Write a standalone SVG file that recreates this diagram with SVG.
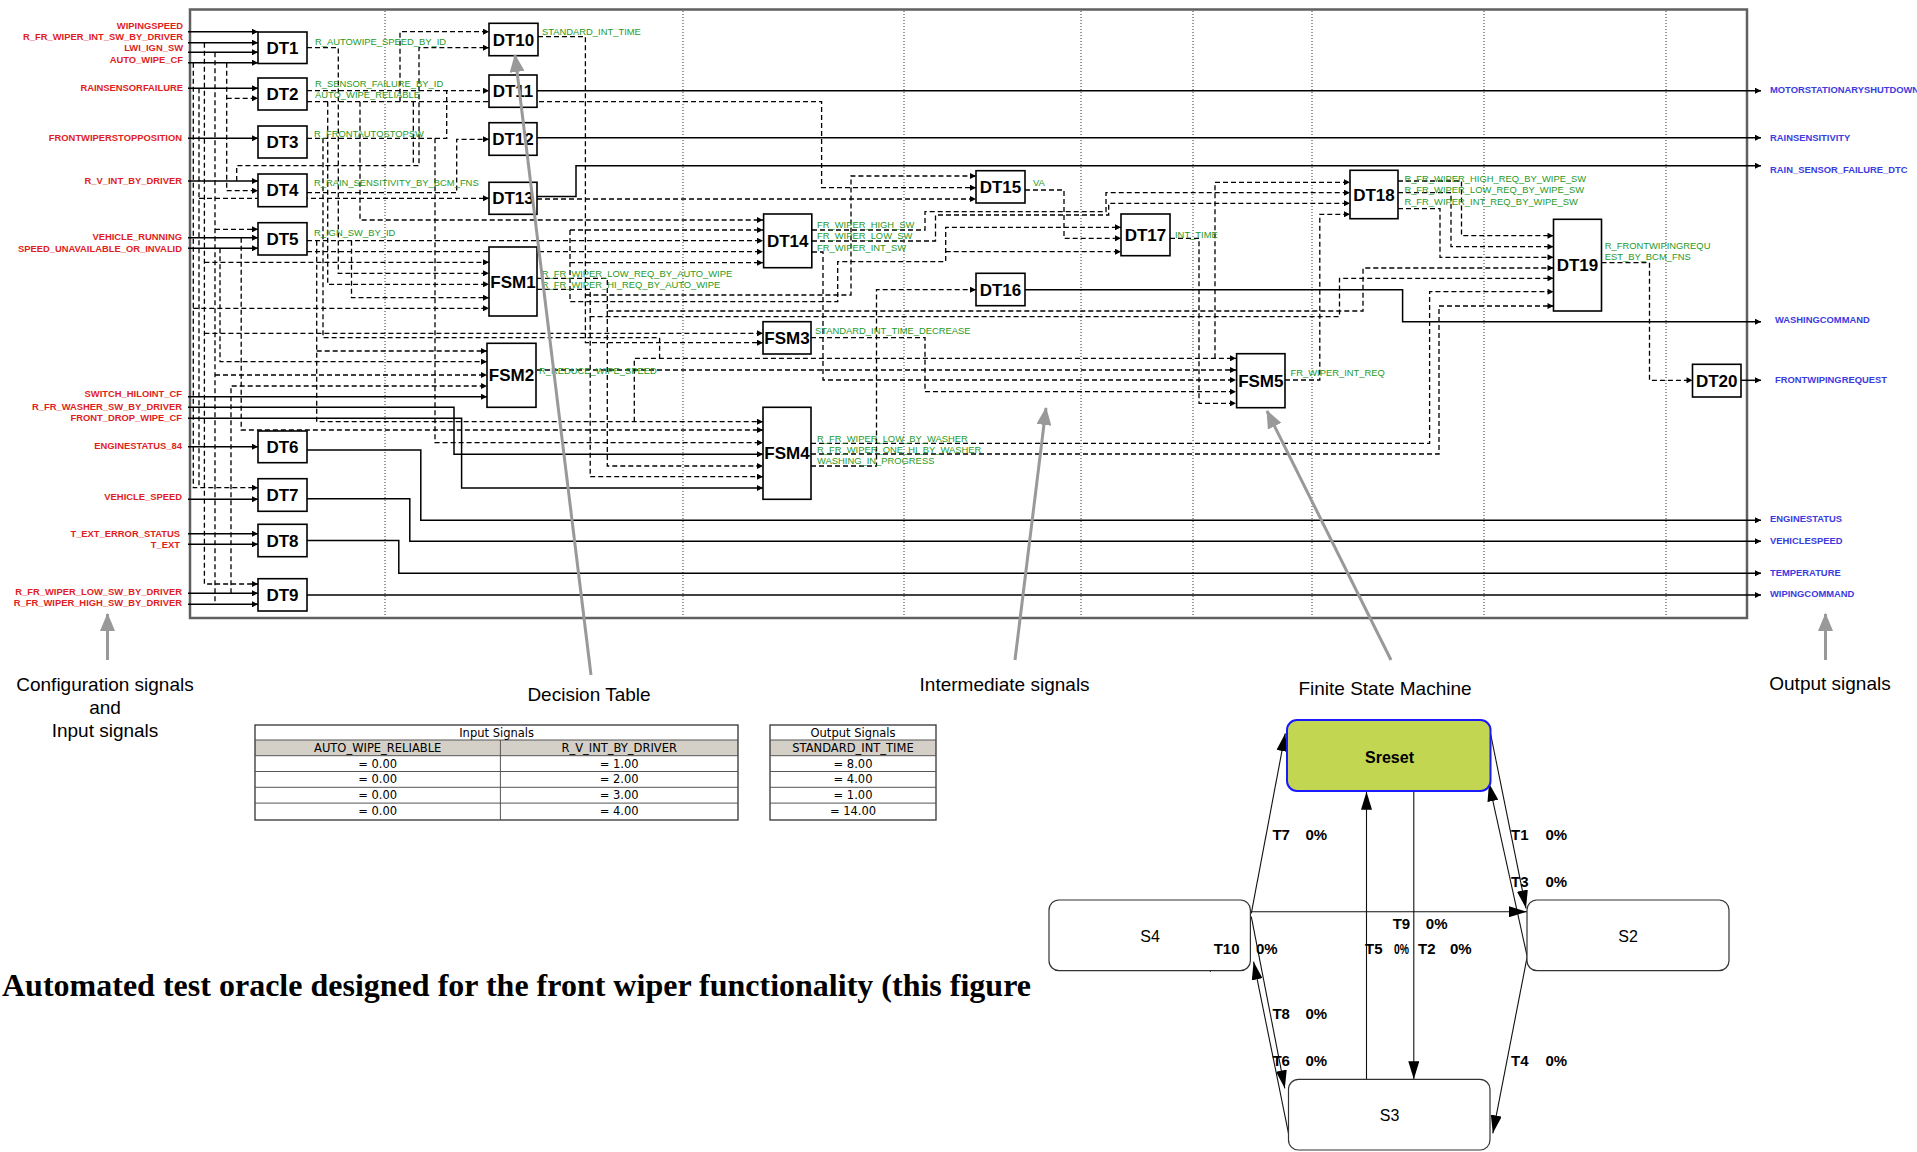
<svg xmlns="http://www.w3.org/2000/svg" width="1917" height="1152" viewBox="0 0 1917 1152">
<style>
.box{fill:#fff;stroke:#000;stroke-width:1.6}
.bl{font-family:'Liberation Sans',Arial,sans-serif;font-weight:bold;font-size:17px;text-anchor:middle;fill:#000}
.s{fill:none;stroke:#000;stroke-width:1.5}
.d{fill:none;stroke:#000;stroke-width:1.3;stroke-dasharray:5,3}
.a{marker-end:url(#a)}
.in{font-family:'Liberation Sans',Arial,sans-serif;font-weight:bold;font-size:9.4px;fill:#e01e1e;text-anchor:end}
.out{font-family:'Liberation Sans',Arial,sans-serif;font-weight:bold;font-size:9.4px;fill:#3b3be0}
.gr{font-family:'Liberation Sans',Arial,sans-serif;font-size:9.4px;fill:#1f9a1f}
.dot{stroke:#000;stroke-width:0.8;stroke-dasharray:1,2}
.ann{font-family:'Liberation Sans',Arial,sans-serif;font-size:19px;text-anchor:middle;fill:#000}
.garr{stroke:#999;stroke-width:3;fill:none;marker-end:url(#g)}
.tt{font-family:'DejaVu Sans',Verdana,sans-serif;font-size:11.5px;text-anchor:middle;fill:#000}
.tl{stroke:#555;stroke-width:1}
.st{fill:#fff;stroke:#333;stroke-width:1.2}
.stl{font-family:'Liberation Sans',Arial,sans-serif;font-size:16px;text-anchor:middle;fill:#000}
.tr{fill:none;stroke:#111;stroke-width:1.1;marker-end:url(#b)}
.trl{font-family:'Liberation Sans',Arial,sans-serif;font-weight:bold;font-size:15px;fill:#000}
</style>
<defs>
<marker id="a" viewBox="0 0 10 10" refX="10" refY="5" markerWidth="7" markerHeight="6" markerUnits="userSpaceOnUse" orient="auto"><path d="M0,0L10,5L0,10z" fill="#000"/></marker>
<marker id="b" viewBox="0 0 18 11" refX="18" refY="5.5" markerWidth="18" markerHeight="11" markerUnits="userSpaceOnUse" orient="auto"><path d="M0,0L18,5.5L0,11z" fill="#000"/></marker>
<marker id="g" viewBox="0 0 18 15" refX="17" refY="7.5" markerWidth="18" markerHeight="15" markerUnits="userSpaceOnUse" orient="auto"><path d="M0,0L18,7.5L0,15z" fill="#999"/></marker>
</defs>
<rect width="1917" height="1152" fill="#fff"/>

<!-- frame and grid -->
<g id="frame">
<rect x="190" y="9.5" width="1557" height="608.5" fill="none" stroke="#606060" stroke-width="2.5"/>
<line class="dot" x1="385" y1="11" x2="385" y2="617"/>
<line class="dot" x1="683" y1="11" x2="683" y2="617"/>
<line class="dot" x1="904" y1="11" x2="904" y2="617"/>
<line class="dot" x1="1081" y1="11" x2="1081" y2="617"/>
<line class="dot" x1="1193" y1="11" x2="1193" y2="617"/>
<line class="dot" x1="1312" y1="11" x2="1312" y2="617"/>
<line class="dot" x1="1484" y1="11" x2="1484" y2="617"/>
<line class="dot" x1="1666" y1="11" x2="1666" y2="617"/>
</g>

<g id="connectors">
<!-- solid inputs -->
<path class="s a" d="M188,31.7H258"/>
<path class="s a" d="M188,42.7H258"/>
<path class="s a" d="M188,52.3H258"/>
<path class="s a" d="M188,62.7H258"/>
<path class="s a" d="M188,88.3H258"/>
<path class="s a" d="M188,138.3H258"/>
<path class="s a" d="M188,181H258"/>
<path class="s a" d="M188,237.7H258"/>
<path class="s a" d="M188,248.3H258"/>
<path class="s a" d="M188,396.7H487"/>
<path class="s a" d="M188,407.3H454V454.3H763"/>
<path class="s a" d="M188,418.3H461.6V488H763"/>
<path class="s a" d="M188,446.7H258"/>
<path class="s a" d="M188,499.3H258"/>
<path class="s a" d="M188,533.7H258"/>
<path class="s a" d="M188,544.3H258"/>
<path class="s a" d="M188,593.3H258"/>
<path class="s a" d="M188,604.3H258"/>
<!-- solid outputs -->
<path class="s a" d="M537,90.7H1761"/>
<path class="s a" d="M537,137.7H1761"/>
<path class="s a" d="M537,196.5H576V165.7H1761"/>
<path class="s a" d="M1025,289.7H1402.6V321.7H1761"/>
<path class="s a" d="M1741,380.3H1761"/>
<path class="s a" d="M307,450H420.8V520.3H1761"/>
<path class="s a" d="M307,498.7H409.8V541.3H1761"/>
<path class="s a" d="M307,540.5H398.8V573.3H1761"/>
<path class="s a" d="M307,595H1761"/>
<!-- dashed -->
<path class="d a" d="M193.3,62.7V487.7H258"/>
<path class="d a" d="M193.3,308.3H489"/>
<path class="d" d="M199,88.3V487.7"/>
<path class="d a" d="M199,198.3H489"/>
<path class="d a" d="M204.4,42.7V584H258"/>
<path class="d a" d="M204.4,262.3H489"/>
<path class="d a" d="M204.4,333.3H763"/>
<path class="d" d="M215,52.3V604.3"/>
<path class="d a" d="M215,229.3H258"/>
<path class="d a" d="M215,375H487"/>
<path class="d a" d="M226.7,62.7V190.7H258"/>
<path class="d a" d="M226.7,98.3H258"/>
<path class="d a" d="M220,248.3V361.7H487"/>
<path class="d a" d="M231,593.3V386H487"/>
<path class="d a" d="M241.2,237.7V430H763"/>
<path class="d a" d="M236.7,181V165.7H419V47.7H489"/>
<path class="d a" d="M307,47.7H338.3V273.3H489"/>
<path class="d a" d="M307,101.7H821.6V187.7H976"/>
<path class="d a" d="M400,101.7V31.7H489"/>
<path class="d a" d="M327.7,101.7V284.3H489"/>
<path class="d a" d="M360,101.7V220H763"/>
<path class="d" d="M413.3,101.7V165.7"/>
<path class="d a" d="M307,90.7H489"/>
<path class="d" d="M307,138.3H446.7V90.7"/>
<path class="d a" d="M435,138.3V442.7H763"/>
<path class="d" d="M323,138.3V337.7H659.6V358.3"/>
<path class="d a" d="M634.3,421.7V358.3H1236"/>
<path class="d a" d="M307,240.7H763"/>
<path class="d a" d="M316.7,240.7V421.7H763"/>
<path class="d a" d="M316.7,351H487"/>
<path class="d a" d="M351.5,240.7V297.7H489"/>
<path class="d a" d="M307,251.7H763"/>
<path class="d a" d="M570,230V301.7H837.7V261.7H945.7V227.3H1121"/>
<path class="d a" d="M570,230H763"/>
<path class="d a" d="M570,262.7H763"/>
<path class="d a" d="M945.7,251.7H1121"/>
<path class="d a" d="M538,36.7H585.4V342.7H763"/>
<path class="d a" d="M585.4,295H851V176H976"/>
<path class="d a" d="M537,199H976"/>
<path class="d a" d="M537,278.3H607.3V311H1363V268H1553.5"/>
<path class="d a" d="M537,289.3H590.2V316.7H1339.5V278.3H1553.5"/>
<path class="d a" d="M607.3,311V466H763"/>
<path class="d a" d="M590.2,316.7V476.7H763"/>
<path class="d a" d="M537,370H1236"/>
<path class="d a" d="M811,337.7H925V391.7H1236"/>
<path class="d a" d="M811,443.3H1429.6V291.7H1553.5"/>
<path class="d a" d="M811,454H1439V306H1553.5"/>
<path class="d a" d="M811,466H876.5V289.7H976"/>
<path class="d a" d="M812,230H925V211.7H1106V192.7H1350"/>
<path class="d a" d="M812,241H935.5V215H1108.7V203.3H1350"/>
<path class="d a" d="M812,252H823V380H1236"/>
<path class="d a" d="M1025,190H1064V238.3H1121"/>
<path class="d a" d="M1170,238.3H1199V403.3H1236"/>
<path class="d a" d="M1285,380H1319.8V214.3H1350"/>
<path class="d a" d="M1215,358.3V182.3H1350"/>
<path class="d a" d="M1398,181H1461.5V235.7H1553.5"/>
<path class="d a" d="M1398,192.7H1451V246.7H1553.5"/>
<path class="d a" d="M1398,208.7H1440V257.3H1553.5"/>
<path class="d a" d="M1601.5,262.7H1649.5V380.3H1692.5"/>
<path class="d a" d="M307,192.7H456.7V139.3H489"/>
</g>

<!-- nodes -->
<g id="DT1"><rect class="box" x="258" y="32" width="49" height="31.5"/><text class="bl" x="282.5" y="53.7">DT1</text></g>
<g id="DT2"><rect class="box" x="258" y="78" width="49" height="32"/><text class="bl" x="282.5" y="100">DT2</text></g>
<g id="DT3"><rect class="box" x="258" y="126" width="49" height="32"/><text class="bl" x="282.5" y="148">DT3</text></g>
<g id="DT4"><rect class="box" x="258" y="174" width="49" height="32.7"/><text class="bl" x="282.5" y="196.3">DT4</text></g>
<g id="DT5"><rect class="box" x="258" y="222.7" width="49" height="32.3"/><text class="bl" x="282.5" y="244.8">DT5</text></g>
<g id="DT6"><rect class="box" x="258" y="431" width="49" height="31.7"/><text class="bl" x="282.5" y="452.8">DT6</text></g>
<g id="DT7"><rect class="box" x="258" y="478.7" width="49" height="32.6"/><text class="bl" x="282.5" y="501">DT7</text></g>
<g id="DT8"><rect class="box" x="258" y="524.3" width="49" height="32.4"/><text class="bl" x="282.5" y="546.5">DT8</text></g>
<g id="DT9"><rect class="box" x="258" y="578.7" width="49" height="32.3"/><text class="bl" x="282.5" y="600.8">DT9</text></g>
<g id="DT10"><rect class="box" x="489" y="23.3" width="49" height="32.4"/><text class="bl" x="513.5" y="45.5">DT10</text></g>
<g id="DT11"><rect class="box" x="489" y="75" width="48" height="32.3"/><text class="bl" x="513" y="97">DT11</text></g>
<g id="DT12"><rect class="box" x="489" y="122.7" width="48" height="32.6"/><text class="bl" x="513" y="145">DT12</text></g>
<g id="DT13"><rect class="box" x="489" y="182.3" width="48" height="32"/><text class="bl" x="513" y="204.3">DT13</text></g>
<g id="FSM1"><rect class="box" x="489" y="247" width="48" height="69"/><text class="bl" x="513" y="287.5">FSM1</text></g>
<g id="FSM2"><rect class="box" x="487" y="343.3" width="49" height="64"/><text class="bl" x="511.5" y="381.3">FSM2</text></g>
<g id="FSM3"><rect class="box" x="763" y="321.7" width="48" height="32.3"/><text class="bl" x="787" y="343.8">FSM3</text></g>
<g id="FSM4"><rect class="box" x="763" y="407.3" width="48" height="92"/><text class="bl" x="787" y="459.3">FSM4</text></g>
<g id="DT14"><rect class="box" x="763.6" y="214" width="48.2" height="53.7"/><text class="bl" x="787.7" y="246.8">DT14</text></g>
<g id="DT15"><rect class="box" x="976" y="170.7" width="49" height="32.3"/><text class="bl" x="1000.5" y="192.8">DT15</text></g>
<g id="DT16"><rect class="box" x="976" y="273.3" width="49" height="32.4"/><text class="bl" x="1000.5" y="295.5">DT16</text></g>
<g id="DT17"><rect class="box" x="1121" y="214" width="49" height="41.7"/><text class="bl" x="1145.5" y="240.8">DT17</text></g>
<g id="DT18"><rect class="box" x="1350" y="170.3" width="48" height="48.4"/><text class="bl" x="1374" y="200.5">DT18</text></g>
<g id="DT19"><rect class="box" x="1553.5" y="219.3" width="48" height="91.7"/><text class="bl" x="1577.5" y="271">DT19</text></g>
<g id="DT20"><rect class="box" x="1692.5" y="364.3" width="48.5" height="32.7"/><text class="bl" x="1716.7" y="386.6">DT20</text></g>
<g id="FSM5"><rect class="box" x="1236.6" y="353.7" width="48.4" height="54"/><text class="bl" x="1260.8" y="386.7">FSM5</text></g>

<!-- input labels -->
<g id="inputs">
<text class="in" x="183" y="29.1">WIPINGSPEED</text>
<text class="in" x="183" y="40.1">R_FR_WIPER_INT_SW_BY_DRIVER</text>
<text class="in" x="183" y="51.1">LWI_IGN_SW</text>
<text class="in" x="183" y="63.4">AUTO_WIPE_CF</text>
<text class="in" x="183" y="91">RAINSENSORFAILURE</text>
<text class="in" x="182" y="141.4">FRONTWIPERSTOPPOSITION</text>
<text class="in" x="182" y="184.1">R_V_INT_BY_DRIVER</text>
<text class="in" x="182" y="240.1">VEHICLE_RUNNING</text>
<text class="in" x="182" y="251.7">SPEED_UNAVAILABLE_OR_INVALID</text>
<text class="in" x="182" y="397.4">SWITCH_HILOINT_CF</text>
<text class="in" x="182" y="410.1">R_FR_WASHER_SW_BY_DRIVER</text>
<text class="in" x="182" y="421.1">FRONT_DROP_WIPE_CF</text>
<text class="in" x="182" y="449.1">ENGINESTATUS_84</text>
<text class="in" x="182" y="500.1">VEHICLE_SPEED</text>
<text class="in" x="180" y="537.1">T_EXT_ERROR_STATUS</text>
<text class="in" x="180" y="547.7">T_EXT</text>
<text class="in" x="182" y="595.1">R_FR_WIPER_LOW_SW_BY_DRIVER</text>
<text class="in" x="182" y="605.7">R_FR_WIPER_HIGH_SW_BY_DRIVER</text>
</g>

<!-- output labels -->
<g id="outputs">
<text class="out" x="1770" y="93.4">MOTORSTATIONARYSHUTDOWN</text>
<text class="out" x="1770" y="140.7">RAINSENSITIVITY</text>
<text class="out" x="1770" y="173.1">RAIN_SENSOR_FAILURE_DTC</text>
<text class="out" x="1775" y="323.4">WASHINGCOMMAND</text>
<text class="out" x="1775" y="383.4">FRONTWIPINGREQUEST</text>
<text class="out" x="1770" y="521.7">ENGINESTATUS</text>
<text class="out" x="1770" y="544.1">VEHICLESPEED</text>
<text class="out" x="1770" y="576.1">TEMPERATURE</text>
<text class="out" x="1770" y="597.1">WIPINGCOMMAND</text>
</g>

<!-- intermediate signal labels -->
<g id="signals">
<text class="gr" x="315" y="45.1">R_AUTOWIPE_SPEED_BY_ID</text>
<text class="gr" x="315" y="86.7">R_SENSOR_FAILURE_BY_ID</text>
<text class="gr" x="315" y="98.4">AUTO_WIPE_RELIABLE</text>
<text class="gr" x="314" y="136.7">R_FRONTAUTOSTOPSW</text>
<text class="gr" x="314" y="185.7">R_RAIN_SENSITIVITY_BY_BCM_FNS</text>
<text class="gr" x="314" y="235.7">R_IGN_SW_BY_ID</text>
<text class="gr" x="542" y="35.1">STANDARD_INT_TIME</text>
<text class="gr" x="541.7" y="276.7">R_FR_WIPER_LOW_REQ_BY_AUTO_WIPE</text>
<text class="gr" x="541.7" y="287.7">R_FR_WIPER_HI_REQ_BY_AUTO_WIPE</text>
<text class="gr" x="539" y="374.1">R_REDUCE_WIPE_SPEED</text>
<text class="gr" x="815" y="334.1">STANDARD_INT_TIME_DECREASE</text>
<text class="gr" x="817" y="228.1">FR_WIPER_HIGH_SW</text>
<text class="gr" x="817" y="239.1">FR_WIPER_LOW_SW</text>
<text class="gr" x="817" y="250.7">FR_WIPER_INT_SW</text>
<text class="gr" x="1033" y="186.1">VA</text>
<text class="gr" x="1175" y="238.4">INT_TIME</text>
<text class="gr" x="1404.4" y="182.1">R_FR_WIPER_HIGH_REQ_BY_WIPE_SW</text>
<text class="gr" x="1404.4" y="193.1">R_FR_WIPER_LOW_REQ_BY_WIPE_SW</text>
<text class="gr" x="1404.4" y="205.1">R_FR_WIPER_INT_REQ_BY_WIPE_SW</text>
<text class="gr" x="1604.7" y="249.4">R_FRONTWIPINGREQU</text>
<text class="gr" x="1604.7" y="260.1">EST_BY_BCM_FNS</text>
<text class="gr" x="1290.5" y="375.7">FR_WIPER_INT_REQ</text>
<text class="gr" x="817" y="442.1">R_FR_WIPER_LOW_BY_WASHER</text>
<text class="gr" x="817" y="453.1">R_FR_WIPER_ONE_HI_BY_WASHER</text>
<text class="gr" x="817" y="464.1">WASHING_IN_PROGRESS</text>
</g>

<!-- decision table -->
<g id="input-table">
<rect x="255" y="740" width="483" height="15.7" fill="#d4d0c8"/>
<rect x="255" y="725" width="483" height="95" fill="none" stroke="#333" stroke-width="1.3"/>
<line class="tl" x1="255" y1="740" x2="738" y2="740"/>
<line class="tl" x1="255" y1="755.7" x2="738" y2="755.7"/>
<line class="tl" x1="255" y1="771.5" x2="738" y2="771.5"/>
<line class="tl" x1="255" y1="787.3" x2="738" y2="787.3"/>
<line class="tl" x1="255" y1="803.1" x2="738" y2="803.1"/>
<line class="tl" x1="500.4" y1="740" x2="500.4" y2="820"/>
<text class="tt" x="496.6" y="736.5">Input Signals</text>
<text class="tt" x="377.7" y="752">AUTO_WIPE_RELIABLE</text>
<text class="tt" x="619.2" y="752">R_V_INT_BY_DRIVER</text>
<text class="tt" x="377.7" y="767.6">= 0.00</text>
<text class="tt" x="377.7" y="783.4">= 0.00</text>
<text class="tt" x="377.7" y="799.2">= 0.00</text>
<text class="tt" x="377.7" y="815">= 0.00</text>
<text class="tt" x="619.2" y="767.6">= 1.00</text>
<text class="tt" x="619.2" y="783.4">= 2.00</text>
<text class="tt" x="619.2" y="799.2">= 3.00</text>
<text class="tt" x="619.2" y="815">= 4.00</text>
</g>
<g id="output-table">
<rect x="770" y="740" width="166" height="15.7" fill="#d4d0c8"/>
<rect x="770" y="725" width="166" height="95" fill="none" stroke="#333" stroke-width="1.3"/>
<line class="tl" x1="770" y1="740" x2="936" y2="740"/>
<line class="tl" x1="770" y1="755.7" x2="936" y2="755.7"/>
<line class="tl" x1="770" y1="771.5" x2="936" y2="771.5"/>
<line class="tl" x1="770" y1="787.3" x2="936" y2="787.3"/>
<line class="tl" x1="770" y1="803.1" x2="936" y2="803.1"/>
<text class="tt" x="853" y="736.5">Output Signals</text>
<text class="tt" x="853" y="752">STANDARD_INT_TIME</text>
<text class="tt" x="853" y="767.6">= 8.00</text>
<text class="tt" x="853" y="783.4">= 4.00</text>
<text class="tt" x="853" y="799.2">= 1.00</text>
<text class="tt" x="853" y="815">= 14.00</text>
</g>

<!-- state machine -->
<g id="sm-transitions">
<path class="tr" d="M1251.3,913.3L1285.3,733.3"/>
<path class="tr" d="M1490.5,733.3L1526,908.3"/>
<path class="tr" d="M1527.2,956.7L1489,783.3"/>
<path class="tr" d="M1527.2,956.7L1492.8,1133.3"/>
<path class="tr" d="M1251.3,911.7H1527"/>
<path class="tr" d="M1366.5,1079.3V791.7"/>
<path class="tr" d="M1413.8,791.7V1079.3"/>
<path class="tr" d="M1210.4,900V971.7"/>
<path class="tr" d="M1251.3,916.7L1284.8,1088.3"/>
<path class="tr" d="M1288.5,1133.3L1253.6,961.7"/>
</g>
<g id="Sreset"><rect x="1287" y="720" width="203.5" height="71" rx="10" fill="#c3d651" stroke="#1a1aff" stroke-width="2"/><text class="stl" x="1389.5" y="762.5" font-weight="bold">Sreset</text></g>
<g id="S4"><rect class="st" x="1049" y="900" width="201.4" height="70.7" rx="10"/><text class="stl" x="1150" y="941.5">S4</text></g>
<g id="S2"><rect class="st" x="1527" y="900" width="202" height="70.7" rx="10"/><text class="stl" x="1628" y="941.5">S2</text></g>
<g id="S3"><rect class="st" x="1288.5" y="1079.3" width="201.5" height="70.7" rx="10"/><text class="stl" x="1389.5" y="1120.5">S3</text></g>
<g id="sm-labels">
<text class="trl" x="1272.4" y="839.6">T7</text><text class="trl" x="1305.5" y="839.6">0%</text>
<text class="trl" x="1511" y="839.6">T1</text><text class="trl" x="1545.5" y="839.6">0%</text>
<text class="trl" x="1511" y="887">T3</text><text class="trl" x="1545.5" y="887">0%</text>
<text class="trl" x="1392.7" y="928.6">T9</text><text class="trl" x="1425.8" y="928.6">0%</text>
<text class="trl" x="1213.7" y="953.6">T10</text><text class="trl" x="1255.9" y="953.6">0%</text>
<text class="trl" x="1365" y="953.6">T5</text><text class="trl" x="1394" y="953.6" textLength="15" lengthAdjust="spacingAndGlyphs">0%</text>
<text class="trl" x="1418" y="953.6">T2</text><text class="trl" x="1450" y="953.6">0%</text>
<text class="trl" x="1272.4" y="1018.6">T8</text><text class="trl" x="1305.5" y="1018.6">0%</text>
<text class="trl" x="1272.4" y="1066.3">T6</text><text class="trl" x="1305.5" y="1066.3">0%</text>
<text class="trl" x="1511" y="1066.3">T4</text><text class="trl" x="1545.5" y="1066.3">0%</text>
</g>

<!-- annotations -->
<g id="annotations">
<path class="garr" d="M107.5,660V614"/>
<path class="garr" d="M591,675L515,55"/>
<path class="garr" d="M1015,660L1046,408"/>
<path class="garr" d="M1391,660L1267,411"/>
<path class="garr" d="M1825.5,660V614"/>
<text class="ann" x="105" y="691">Configuration signals</text>
<text class="ann" x="105" y="713.5">and</text>
<text class="ann" x="105" y="737">Input signals</text>
<text class="ann" x="589" y="701">Decision Table</text>
<text class="ann" x="1004.6" y="691">Intermediate signals</text>
<text class="ann" x="1385" y="695">Finite State Machine</text>
<text class="ann" x="1830" y="690">Output signals</text>
<text x="2" y="996" font-family="'Liberation Serif','Times New Roman',serif" font-weight="bold" font-size="31" textLength="1029" lengthAdjust="spacingAndGlyphs">Automated test oracle designed for the front wiper functionality (this figure</text>
</g>
</svg>
